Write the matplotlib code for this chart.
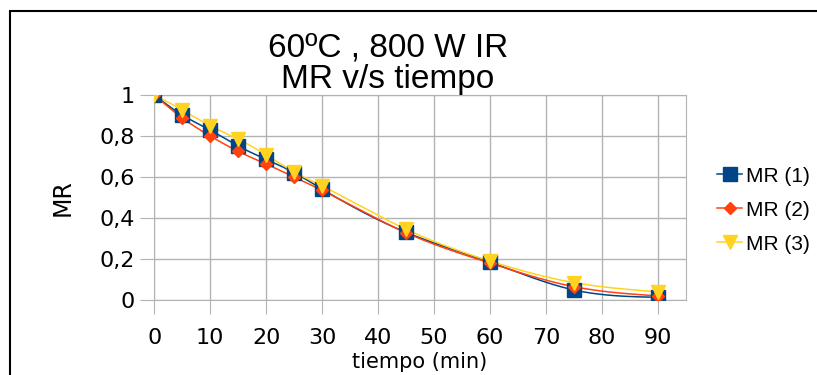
import numpy as np
import matplotlib.pyplot as plt
from matplotlib.patches import Rectangle

tiempo = [0, 5, 10, 15, 20, 25, 30, 45, 60, 75, 90]
mr_1 = [1.0, 0.902, 0.829, 0.751, 0.686, 0.621, 0.541, 0.330, 0.185, 0.049, 0.013]
mr_2 = [1.0, 0.888, 0.800, 0.725, 0.663, 0.600, 0.535, 0.328, 0.180, 0.065, 0.020]
mr_3 = [1.0, 0.927, 0.850, 0.785, 0.707, 0.625, 0.556, 0.345, 0.190, 0.085, 0.040]
series = [("MR (1)", mr_1, "#004586", "s", 9.5),
          ("MR (2)", mr_2, "#ff420e", "D", 6.5),
          ("MR (3)", mr_3, "#ffd320", "v", 9.5)]


def natural_spline(x, y, n=400):
    # natural cubic spline, like the smoothed lines of a spreadsheet chart
    x = np.asarray(x, float)
    y = np.asarray(y, float)
    k = len(x)
    h = np.diff(x)
    A = np.zeros((k, k))
    b = np.zeros(k)
    A[0, 0] = A[-1, -1] = 1
    for i in range(1, k - 1):
        A[i, i - 1] = h[i - 1]
        A[i, i] = 2 * (h[i - 1] + h[i])
        A[i, i + 1] = h[i]
        b[i] = 3 * ((y[i + 1] - y[i]) / h[i] - (y[i] - y[i - 1]) / h[i - 1])
    c = np.linalg.solve(A, b)
    xs = np.linspace(x[0], x[-1], n)
    idx = np.clip(np.searchsorted(x, xs) - 1, 0, k - 2)
    dx = xs - x[idx]
    bb = (y[1:] - y[:-1]) / h - h * (2 * c[:-1] + c[1:]) / 3
    d = (c[1:] - c[:-1]) / (3 * h)
    ys = y[idx] + bb[idx] * dx + c[idx] * dx ** 2 + d[idx] * dx ** 3
    return xs, ys


W, H = 817, 375
fig = plt.figure(figsize=(W / 100, H / 100), dpi=100)
fig.patches.append(Rectangle((9.5 / W, -0.1), 1.0, 1 - 11 / H + 0.1,
                             transform=fig.transFigure, fill=False,
                             edgecolor="black", linewidth=1.5))

ax = fig.add_axes([154.3 / W, 75 / H, (685.7 - 154.3) / W, 205 / H])
for name, vals, col, mk, ms in series:
    xs, ys = natural_spline(tiempo, vals)
    ax.plot(xs, ys, color=col, lw=1.1, zorder=2)
    ax.plot(tiempo, vals, linestyle="none", marker=mk, color=col,
            markersize=ms, zorder=3)
    ax.plot([], [], color=col, lw=1.1, marker=mk, markersize=ms, label=name)

ax.set_xlim(0, 95)
ax.set_ylim(0, 1)
ax.set_xticks(range(0, 100, 10))
ax.set_yticks([0, 0.2, 0.4, 0.6, 0.8, 1])
ax.set_yticklabels(["0", "0,2", "0,4", "0,6", "0,8", "1"])
ax.grid(True, color="#b3b3b3", lw=1)
ax.set_axisbelow(True)
for s in ax.spines.values():
    s.set_color("#b3b3b3")
ax.tick_params(color="#b3b3b3", length=10, labelsize=16)
ax.tick_params(axis="x", pad=10)
ax.tick_params(axis="y", pad=4)

ax.set_xlabel("tiempo (min)", fontsize=15, labelpad=3)
ax.set_ylabel("MR", fontsize=17, labelpad=18)

# two-line title
fig.text(388 / W, 1 - 56.7 / H, "60ºC , 800 W IR", ha="center", va="baseline",
         fontsize=24, family="Liberation Sans")
fig.text(388 / W, 1 - 88 / H, "MR v/s tiempo", ha="center", va="baseline",
         fontsize=24, family="Liberation Sans")

fig.legend(loc="center left", bbox_to_anchor=(709 / W, 1 - 210 / H),
           frameon=False, prop={"family": "Liberation Sans", "size": 15},
           handlelength=1.2, handletextpad=0.2, labelspacing=0.72,
           borderaxespad=0)

fig.savefig("out.png", dpi=100)
